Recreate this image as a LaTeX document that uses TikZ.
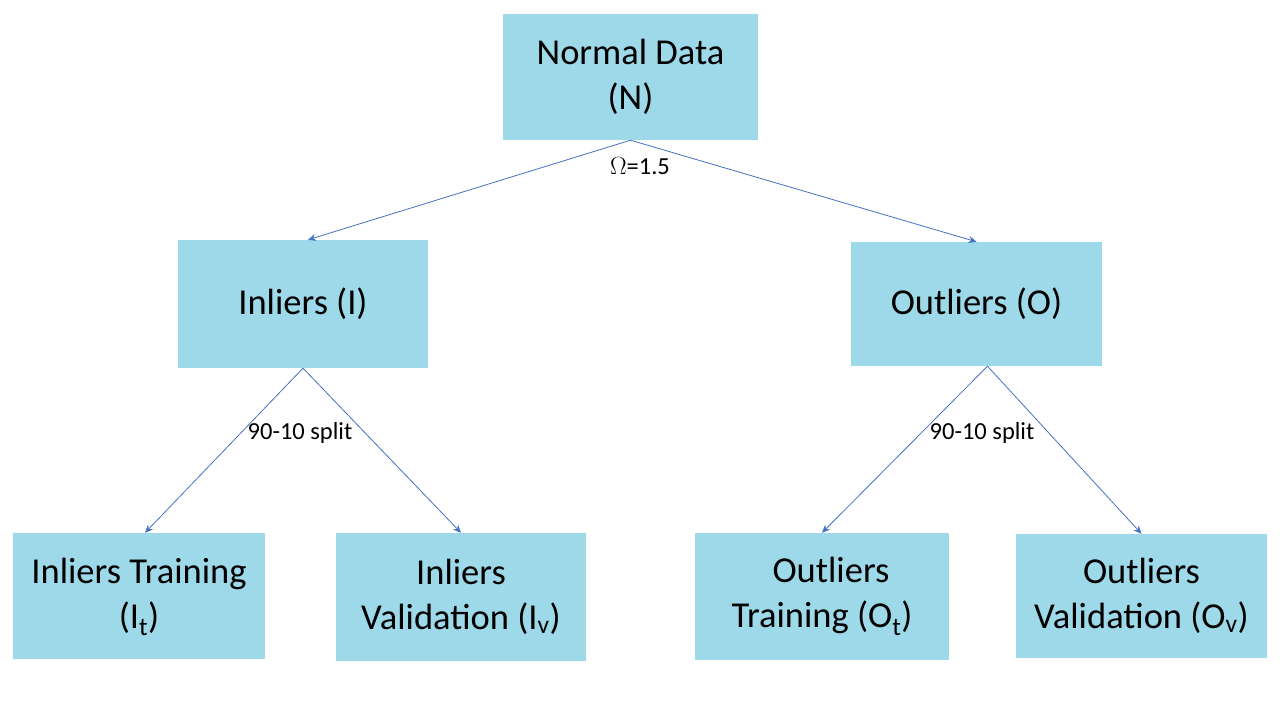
\documentclass[tikz,border=0pt]{standalone}
\usepackage{fontspec}
\setmainfont{Carlito}
\usetikzlibrary{arrows.meta}
\definecolor{boxfill}{RGB}{157,217,232}
\definecolor{arrowblue}{RGB}{68,114,196}
\begin{document}
\begin{tikzpicture}[x=1pt,y=-1pt,
  box/.style={fill=boxfill, draw=none, rectangle, align=center, inner sep=0pt,
    font=\fontsize{36.5}{45}\selectfont},
  conn/.style={draw=arrowblue, line width=0.8pt, -{Stealth[length=8pt,width=7pt]}},
  lbl/.style={font=\fontsize{24.5}{28}\selectfont, inner sep=1pt}]
\useasboundingbox (0,0) rectangle (1280,720);
\fill[white] (0,0) rectangle (1280,720);
\node[box, minimum width=255pt, minimum height=126pt] (N) at (630.5,77) {Normal Data\\(N)};
\node[box, minimum width=250pt, minimum height=128pt] (I) at (303,304) {Inliers (I)};
\node[box, minimum width=251pt, minimum height=124pt] (O) at (976.5,304) {Outliers (O)};
\node[box, minimum width=252pt, minimum height=126pt, text depth=6pt] (It) at (139,596) {Inliers Training\\(I\textsubscript{t})};
\node[box, minimum width=250pt, minimum height=128pt] (Iv) at (461,597) {Inliers\\Validation (I\textsubscript{v})};
\node[box, minimum width=254pt, minimum height=127pt] (Ot) at (822,596.5) {\hspace*{18pt}Outliers\\Training (O\textsubscript{t})};
\node[box, minimum width=251pt, minimum height=124pt] (Ov) at (1141.5,596) {Outliers\\Validation (O\textsubscript{v})};
\draw[conn] (N.south) -- ([xshift=5pt]I.north);
\draw[conn] (N.south) -- (O.north);
\draw[conn] (I.south) -- ([xshift=6pt]It.north);
\draw[conn] (I.south) -- (Iv.north);
\draw[conn] ([xshift=11pt]O.south) -- (Ot.north);
\draw[conn] ([xshift=11pt]O.south) -- (Ov.north);
\node[lbl] (l1) at (640,166) {$\Omega$=1.5};
\node[lbl] (l2) at (300,433) {90-10 split};
\node[lbl] (l3) at (982,433) {90-10 split};
\end{tikzpicture}
\end{document}
